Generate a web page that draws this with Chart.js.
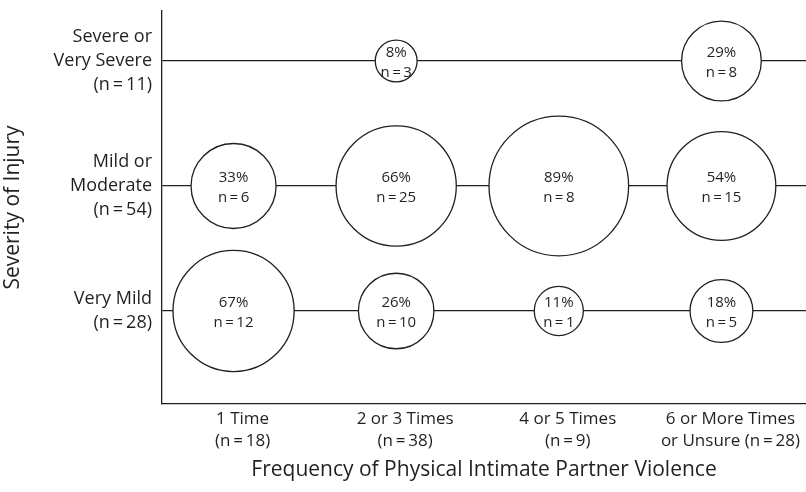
<!DOCTYPE html>
<html>
<head>
<meta charset="utf-8">
<script src="https://cdn.jsdelivr.net/npm/chart.js@4"></script>
<style>
  html, body { margin: 0; padding: 0; background: #fff; }
  #wrap { width: 806px; height: 492px; }
</style>
</head>
<body>
<div id="wrap"><canvas id="bubbles"></canvas></div>
<script>
var frequencyLabels = [
  ["1 Time", "(n\u2009=\u200918)"],
  ["2 or 3 Times", "(n\u2009=\u200938)"],
  ["4 or 5 Times", "(n\u2009=\u20099)"],
  ["6 or More Times", "or Unsure (n\u2009=\u200928)"],
];

// bottom row first
var severityLabels = [
  ["Very Mild", "(n\u2009=\u200928)"],
  ["Mild or", "Moderate", "(n\u2009=\u200954)"],
  ["Severe or", "Very Severe", "(n\u2009=\u200911)"],
];

var veryMildPct = [67, 26, 11, 18];
var veryMildN = [12, 10, 1, 5];
var mildPct = [33, 66, 89, 54];
var mildN = [6, 25, 8, 15];
var severePct = [null, 8, null, 29];
var severeN = [null, 3, null, 8];

var ink = "#231f20";
var font = "'Open Sans', sans-serif";

var rows = [
  [veryMildPct, veryMildN],
  [mildPct, mildN],
  [severePct, severeN],
];

var points = [];
rows.forEach((row, r) => {
  row[0].forEach((pct, i) => {
    if (pct == null) return;
    points.push({ x: i, y: r, pct: pct, n: row[1][i] });
  });
});

// bubble area is proportional to the percentage
var radiusOf = (pct) => 7.4 * Math.sqrt(pct);

var bubbleText = {
  id: "bubbleText",
  afterDatasetsDraw(chart) {
    var ctx = chart.ctx;
    var meta = chart.getDatasetMeta(0);
    ctx.save();
    ctx.fillStyle = ink;
    ctx.font = "15px " + font;
    ctx.textAlign = "center";
    ctx.textBaseline = "middle";
    meta.data.forEach((el, i) => {
      var d = points[i];
      ctx.fillText(d.pct + "%", el.x, el.y - 8);
      ctx.fillText("n\u2009=\u2009" + d.n, el.x, el.y + 12);
    });
    ctx.restore();
  },
};

new Chart(document.getElementById("bubbles"), {
  type: "bubble",
  data: {
    datasets: [
      {
        data: points,
        backgroundColor: "#fff",
        borderColor: ink,
        borderWidth: 1.3,
        radius: (c) => (c.raw ? radiusOf(c.raw.pct) : 0),
        clip: false,
      },
    ],
  },
  options: {
    responsive: true,
    maintainAspectRatio: false,
    animation: false,
    events: [],
    layout: { autoPadding: false, padding: { top: 11, right: 0, left: 0, bottom: 0 } },
    plugins: { legend: { display: false }, tooltip: { enabled: false } },
    scales: {
      x: {
        type: "linear",
        min: -0.44,
        max: 3.52,
        afterBuildTicks: (s) => {
          s.ticks = frequencyLabels.map((l, i) => ({ value: i }));
        },
        afterFit: (s) => {
          s.height = 88;
          s.paddingLeft = 0;
          s.paddingRight = 0;
        },
        grid: { display: false, drawTicks: false },
        border: { display: true, color: ink, width: 1.3 },
        ticks: {
          color: ink,
          font: { family: font, size: 17, lineHeight: 1.25 },
          padding: 5,
          labelOffset: 9,
          maxRotation: 0,
          autoSkip: false,
          callback: (v) => frequencyLabels[v],
        },
        title: {
          display: true,
          text: "Frequency of Physical Intimate Partner Violence",
          color: ink,
          font: { family: font, size: 21 },
          padding: { top: 8, bottom: 9 },
        },
      },
      y: {
        type: "linear",
        min: -0.744,
        max: 2.4,
        afterBuildTicks: (s) => {
          s.ticks = severityLabels.map((l, i) => ({ value: i }));
        },
        afterFit: (s) => {
          s.width = 162;
          s.paddingTop = 0;
          s.paddingBottom = 0;
        },
        grid: { color: ink, lineWidth: 1.3, drawTicks: false },
        border: { display: true, color: ink, width: 1.3 },
        ticks: {
          color: ink,
          font: { family: font, size: 18, lineHeight: 1.33 },
          padding: 10,
          autoSkip: false,
          callback: (v) => severityLabels[v],
        },
        title: {
          display: true,
          text: "Severity of Injury",
          color: ink,
          font: { family: font, size: 21 },
          padding: { top: 0, bottom: 0 },
        },
      },
    },
  },
  plugins: [bubbleText],
});
</script>
</body>
</html>
